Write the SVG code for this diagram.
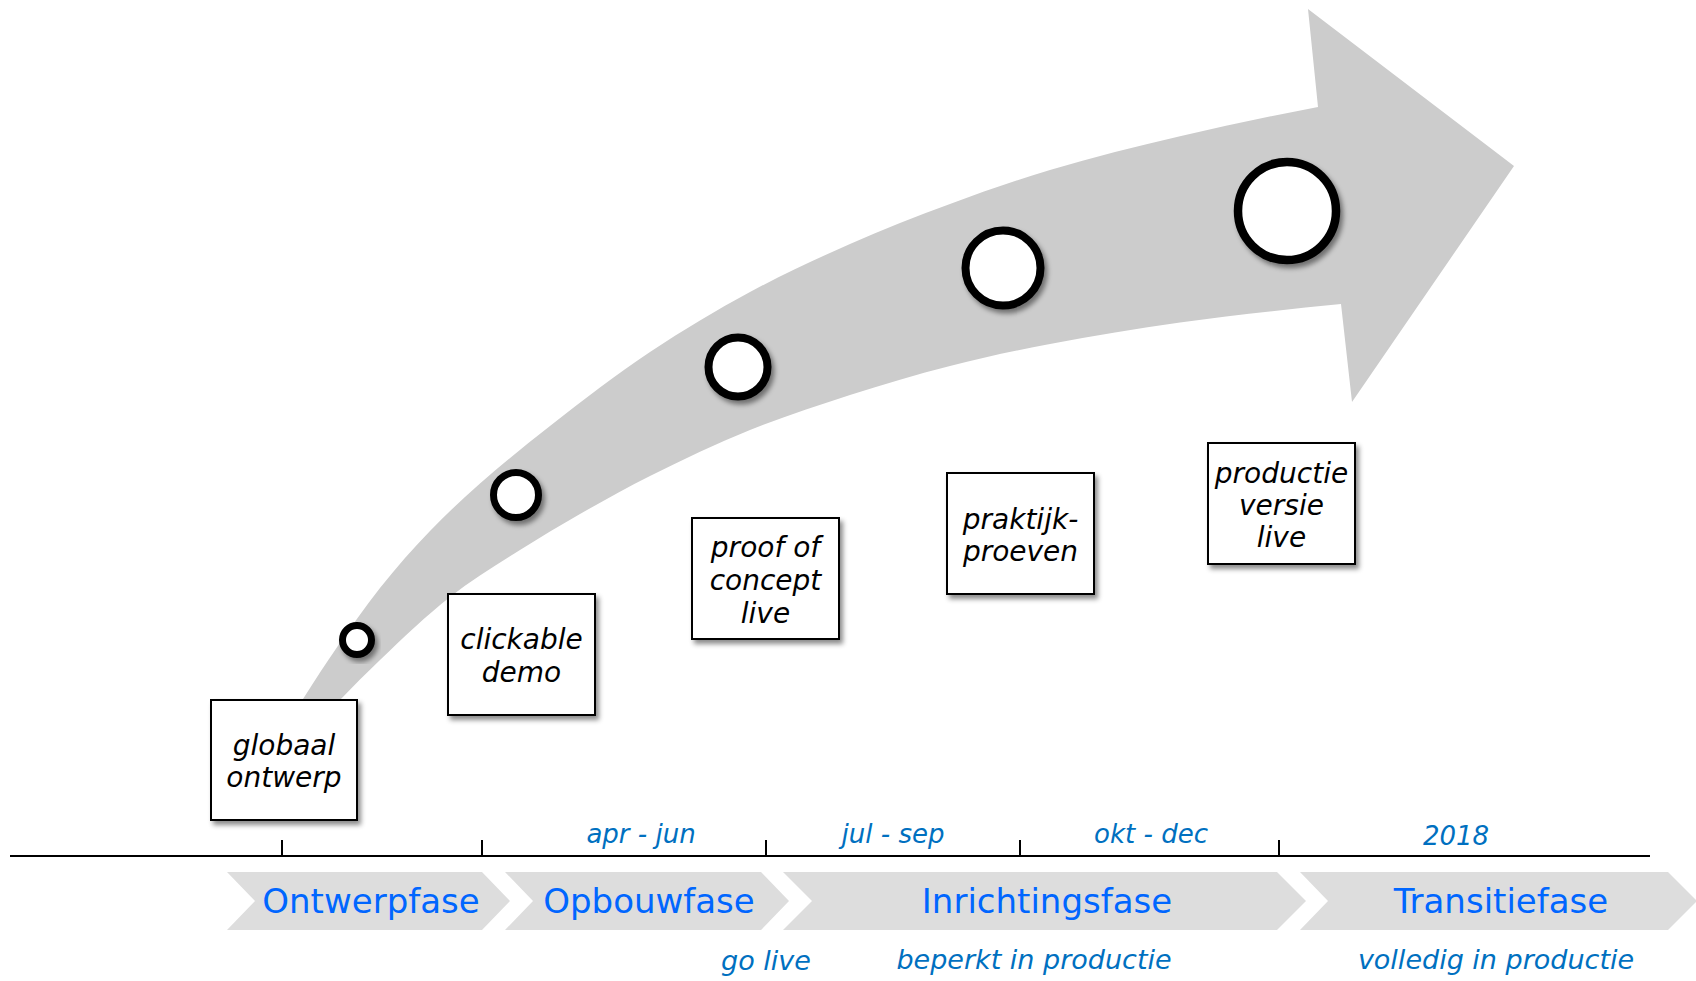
<svg xmlns="http://www.w3.org/2000/svg" width="1696" height="981" viewBox="0 0 1696 981">
<defs>
<filter id="sh" x="-20%" y="-20%" width="150%" height="150%">
<feDropShadow dx="3" dy="4" stdDeviation="2.5" flood-color="#000" flood-opacity="0.45"/>
</filter>
</defs>
<style>
.box{fill:#fff;stroke:#000;stroke-width:2;filter:url(#sh)}
.dot{fill:#fff;stroke:#000;filter:url(#sh)}
.bt{font-family:"DejaVu Sans",Verdana,sans-serif;font-style:italic;font-size:28px;fill:#000;text-anchor:middle}
.ax{font-family:"DejaVu Sans",Verdana,sans-serif;font-style:italic;font-size:26px;fill:#0070C0;text-anchor:middle}
.sub{font-family:"DejaVu Sans",Verdana,sans-serif;font-style:italic;font-size:27px;fill:#0070C0;text-anchor:middle}
.ph{font-family:"DejaVu Sans",Verdana,sans-serif;font-size:34px;fill:#0066FF;text-anchor:middle}
.chev{fill:#dddddd}
.axis{stroke:#000;stroke-width:2;fill:none}
</style>
<g id="big-arrow">
<path fill="#cccccc" d="M303,699 C314.3,681.1 325.7,663.7 337,647.3 C351.3,626.5 365.7,606.1 380,588 C396.7,567 413.3,548.3 430,531 C446.7,513.7 463.3,498.2 480,483.5 C503.3,463 526.7,444.2 550,426 C583.3,400 616.7,374.3 650,352 C683.3,329.7 716.7,310 750,292 C783.3,274 816.7,258.7 850,244 C883.3,229.3 916.7,216.3 950,204 C983.3,191.7 1016.7,180 1050,170 C1093.3,157 1136.7,146.5 1180,136.3 C1226,125.5 1272,115.7 1318,107 L1308,9 L1514,166 L1352,402 L1341,304 C1287.3,309.4 1233.7,315 1180,322.5 C1136.7,328.6 1093.3,335.8 1050,344 C1016.7,350.3 983.3,357.5 950,366 C916.7,374.5 883.3,384.3 850,395 C816.7,405.7 783.3,416.7 750,430 C716.7,443.3 683.3,459.3 650,476 C626.7,487.7 603.3,500.7 580,514 C560,525.4 540,537.4 520,550 C496.7,564.7 473.3,578.8 450,597 C426.7,615.2 403.3,637.8 380,660 C366.7,672.7 353.3,686 340,700 Z"/>
</g>
<g id="milestones">
<circle class="dot" cx="357" cy="640" r="14.5" stroke-width="7"/>
<circle class="dot" cx="516" cy="495" r="22.5" stroke-width="7"/>
<circle class="dot" cx="738" cy="367" r="29.5" stroke-width="8"/>
<circle class="dot" cx="1003" cy="268" r="37.5" stroke-width="8"/>
<circle class="dot" cx="1287" cy="211" r="49" stroke-width="8.5"/>
</g>
<g id="node-globaal">
<rect class="box" x="211" y="700" width="146" height="120"/>
<text class="bt" x="284" y="755">globaal</text>
<text class="bt" x="284" y="787">ontwerp</text>
</g>
<g id="node-clickable">
<rect class="box" x="448" y="594" width="147" height="121"/>
<text class="bt" x="521.5" y="649">clickable</text>
<text class="bt" x="521.5" y="682">demo</text>
</g>
<g id="node-poc">
<rect class="box" x="692" y="518" width="147" height="121"/>
<text class="bt" x="765.5" y="557">proof of</text>
<text class="bt" x="765.5" y="590">concept</text>
<text class="bt" x="765.5" y="623">live</text>
</g>
<g id="node-praktijk">
<rect class="box" x="947" y="473" width="147" height="121"/>
<text class="bt" x="1020.5" y="529">praktijk-</text>
<text class="bt" x="1020.5" y="561">proeven</text>
</g>
<g id="node-productie">
<rect class="box" x="1208" y="443" width="147" height="121"/>
<text class="bt" x="1281.5" y="483">productie</text>
<text class="bt" x="1281.5" y="515">versie</text>
<text class="bt" x="1281.5" y="547">live</text>
</g>
<g id="connectors">
<line class="axis" x1="10" y1="856" x2="1650" y2="856"/>
<line class="axis" x1="282" y1="840" x2="282" y2="856"/>
<line class="axis" x1="482" y1="840" x2="482" y2="856"/>
<line class="axis" x1="766" y1="840" x2="766" y2="856"/>
<line class="axis" x1="1020" y1="840" x2="1020" y2="856"/>
<line class="axis" x1="1279" y1="840" x2="1279" y2="856"/>
</g>
<g id="axis-labels">
<text class="ax" x="641" y="843">apr - jun</text>
<text class="ax" x="893" y="843">jul - sep</text>
<text class="ax" x="1151" y="843">okt - dec</text>
<text class="ax" x="1456" y="845">2018</text>
</g>
<g id="phase-ontwerp">
<polygon class="chev" points="227,872 482,872 510,901 482,930 227,930 255,901"/>
<text class="ph" x="371" y="913">Ontwerpfase</text>
</g>
<g id="phase-opbouw">
<polygon class="chev" points="505,872 761,872 789,901 761,930 505,930 533,901"/>
<text class="ph" x="649" y="913">Opbouwfase</text>
</g>
<g id="phase-inrichting">
<polygon class="chev" points="783,872 1277,872 1306,901 1277,930 783,930 812,901"/>
<text class="ph" x="1047" y="913">Inrichtingsfase</text>
</g>
<g id="phase-transitie">
<polygon class="chev" points="1300,872 1668,872 1697,901 1668,930 1300,930 1328,901"/>
<text class="ph" x="1501" y="913">Transitiefase</text>
</g>
<g id="phase-notes">
<text class="sub" x="766" y="970">go live</text>
<text class="sub" x="1034" y="969">beperkt in productie</text>
<text class="sub" x="1496" y="969">volledig in productie</text>
</g>
</svg>
